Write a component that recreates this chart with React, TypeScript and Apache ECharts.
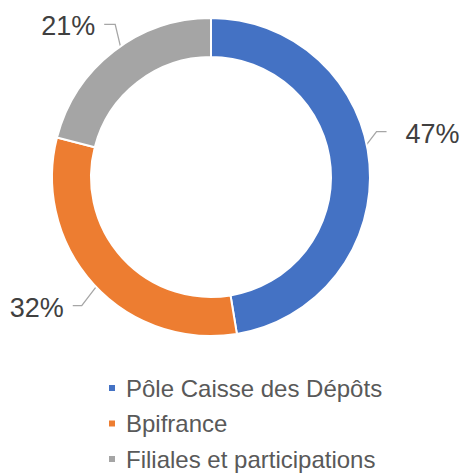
import React, { useEffect, useRef } from "react";
import * as echarts from "echarts";

const categories = ["Pôle Caisse des Dépôts", "Bpifrance", "Filiales et participations"];
const values = [47.4, 31.6, 21.0];
const colors = ["#4472C4", "#ED7D31", "#A5A5A5"];

// label guide line shape per slice: [dx, dy of bend, horizontal length, text gap]
const lineShapes: number[][] = [
  [26, -34, 10, 19],
  [-26, 34, -9, 9],
  [-10, -42, -11, 9],
];

const CX = 211;
const CY = 177;
const ANCHOR_R = 140;
const FONT = "'Liberation Sans', Arial, sans-serif";

export default function App() {
  const ref = useRef<HTMLDivElement>(null);
  useEffect(() => {
    if (!ref.current) return;
    const chart = echarts.init(ref.current, null, { renderer: "svg" });
    const total = values.reduce((a, b) => a + b, 0);
    const midAngles: number[] = [];
    let acc = 0;
    values.forEach((v) => {
      midAngles.push(((acc + v / 2) / total) * Math.PI * 2);
      acc += v;
    });
    chart.setOption({
      animation: false,
      color: colors,
      legend: {
        orient: "vertical",
        left: 107,
        top: 376,
        padding: 0,
        itemGap: 11.5,
        itemWidth: 8,
        itemHeight: 8,
        icon: "rect",
        data: categories,
        textStyle: {
          fontFamily: FONT,
          fontSize: 24,
          color: "#595959",
          padding: [0, 0, 0, 5],
        },
      },
      series: [
        {
          type: "pie",
          center: [CX, CY],
          radius: [120, 159],
          startAngle: 90,
          clockwise: true,
          avoidLabelOverlap: false,
          itemStyle: { borderColor: "#ffffff", borderWidth: 2 },
          label: {
            show: true,
            position: "outside",
            fontFamily: FONT,
            fontSize: 27,
            color: "#404040",
            formatter: (p: any) => Math.round(p.value) + "%",
          },
          labelLine: {
            show: true,
            lineStyle: { color: "#A6A6A6", width: 1.3 },
          },
          labelLayout: (params: any) => {
            const i = params.dataIndex;
            const a = midAngles[i];
            const sx = CX + ANCHOR_R * Math.sin(a);
            const sy = CY - ANCHOR_R * Math.cos(a);
            const [dx, dy, h, gap] = lineShapes[i];
            const mx = sx + dx;
            const my = sy + dy;
            const ex = mx + h;
            const ey = my;
            const right = h > 0;
            return {
              x: ex + (right ? gap : -gap),
              y: ey + 2,
              align: right ? "left" : "right",
              verticalAlign: "middle",
              labelLinePoints: [
                [sx, sy],
                [mx, my],
                [ex, ey],
              ],
            };
          },
          emphasis: { disabled: true },
          data: categories.map((name, i) => ({ name, value: values[i] })),
        },
      ],
    });
    return () => chart.dispose();
  }, []);
  return (
    <div
      ref={ref}
      style={{ position: "absolute", left: 0, top: 0, width: 463, height: 473, background: "#fff" }}
    />
  );
}
